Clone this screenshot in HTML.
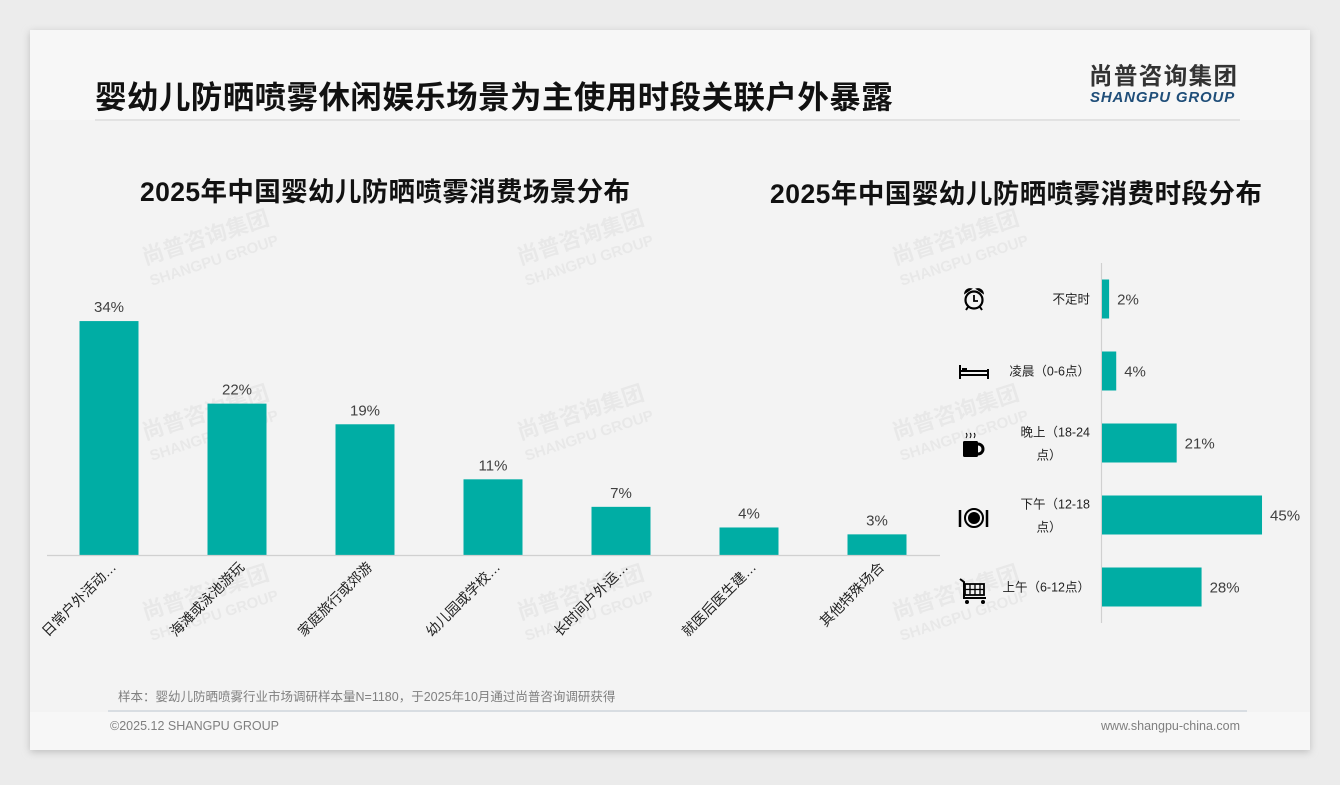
<!DOCTYPE html>
<html><head><meta charset="utf-8">
<style>
html,body{margin:0;padding:0;background:#ebebeb;}
body{width:1340px;height:780px;position:relative;overflow:hidden;font-family:"Liberation Sans","Noto Sans CJK SC",sans-serif;}
</style></head>
<body>
<svg width="1340" height="780" viewBox="0 0 1340 780" xmlns="http://www.w3.org/2000/svg" font-family="Liberation Sans, Noto Sans CJK SC, sans-serif">
<defs><filter id="sh" x="-5%" y="-5%" width="110%" height="110%"><feGaussianBlur stdDeviation="4"/></filter></defs>
<rect x="0" y="0" width="1340" height="780" fill="#ececec"/>
<rect x="30" y="32" width="1280" height="720" fill="#bdbdbd" filter="url(#sh)"/>
<rect x="30" y="30" width="1280" height="720" fill="#f7f7f7"/>
<rect x="30" y="120" width="1280" height="592" fill="#f3f3f3"/>
<text x="95" y="108" font-size="31.5" font-weight="bold" fill="#111" letter-spacing="0.3" textLength="798">婴幼儿防晒喷雾休闲娱乐场景为主使用时段关联户外暴露</text>
<line x1="95" y1="120" x2="1240" y2="120" stroke="#dcdcdc" stroke-width="1.5"/>
<g>
<text x="1163" y="84" font-size="23.5" font-weight="bold" fill="#333" text-anchor="middle" textLength="148">尚普咨询集团</text>
<text x="1163" y="102" font-size="15" font-weight="bold" font-style="italic" fill="#1f4e79" text-anchor="middle" letter-spacing="1.8" textLength="146">SHANGPU GROUP</text>
</g>
<g fill="#000" opacity="0.045" font-weight="bold">
<g transform="translate(145,265) rotate(-18)"><text font-size="22">尚普咨询集团</text><text y="22" font-size="15">SHANGPU GROUP</text></g>
<g transform="translate(520,265) rotate(-18)"><text font-size="22">尚普咨询集团</text><text y="22" font-size="15">SHANGPU GROUP</text></g>
<g transform="translate(895,265) rotate(-18)"><text font-size="22">尚普咨询集团</text><text y="22" font-size="15">SHANGPU GROUP</text></g>
<g transform="translate(145,440) rotate(-18)"><text font-size="22">尚普咨询集团</text><text y="22" font-size="15">SHANGPU GROUP</text></g>
<g transform="translate(520,440) rotate(-18)"><text font-size="22">尚普咨询集团</text><text y="22" font-size="15">SHANGPU GROUP</text></g>
<g transform="translate(895,440) rotate(-18)"><text font-size="22">尚普咨询集团</text><text y="22" font-size="15">SHANGPU GROUP</text></g>
<g transform="translate(145,620) rotate(-18)"><text font-size="22">尚普咨询集团</text><text y="22" font-size="15">SHANGPU GROUP</text></g>
<g transform="translate(520,620) rotate(-18)"><text font-size="22">尚普咨询集团</text><text y="22" font-size="15">SHANGPU GROUP</text></g>
<g transform="translate(895,620) rotate(-18)"><text font-size="22">尚普咨询集团</text><text y="22" font-size="15">SHANGPU GROUP</text></g>
</g>
<text x="385" y="201" font-size="26.5" font-weight="bold" fill="#111" text-anchor="middle" textLength="490">2025年中国婴幼儿防晒喷雾消费场景分布</text>
<text x="1016" y="203" font-size="26.5" font-weight="bold" fill="#111" text-anchor="middle" textLength="492">2025年中国婴幼儿防晒喷雾消费时段分布</text>
<g id="left-chart"></g>
<g id="right-chart"></g>
<g id="icons">
<g transform="translate(974,299)">
<circle cx="0" cy="1" r="8.5" fill="none" stroke="#000" stroke-width="2.2"/>
<path d="M-9,-6 a5,5 0 0 1 6,-4 z M9,-6 a5,5 0 0 0 -6,-4 z" fill="#000" stroke="#000" stroke-width="1.5"/>
<path d="M0,-4 V2 H4" stroke="#000" stroke-width="1.8" fill="none"/>
<path d="M-6,8 l-2,3 M6,8 l2,3" stroke="#000" stroke-width="2"/>
</g>
<g transform="translate(974,372)">
<path d="M-14,-7 V7 M14,-3 V7 M-14,3 H14 M-14,-1 H14" stroke="#000" stroke-width="2" fill="none"/>
<rect x="-12" y="-4" width="5" height="3" fill="#000"/>
</g>
<g transform="translate(973,445)">
<rect x="-10" y="-4" width="15" height="16" rx="1.5" fill="#000"/>
<path d="M5,-1 a5,5 0 0 1 0,10" stroke="#000" stroke-width="3" fill="none"/>
<path d="M-7,-12 q2,2 0,5 M-3,-12 q2,2 0,5 M1,-12 q2,2 0,5" stroke="#000" stroke-width="1" fill="none"/>
</g>
<g transform="translate(974,518)">
<circle cx="0" cy="0" r="9" fill="none" stroke="#000" stroke-width="2"/>
<circle cx="0" cy="0" r="6" fill="#000"/>
<path d="M-14,-8 V9 M13,-8 V9" stroke="#000" stroke-width="2.5"/>
</g>
<g transform="translate(974,591)">
<path d="M-14,-12 L-10,-9 V7 H12" stroke="#000" stroke-width="2" fill="none"/>
<rect x="-9" y="-7" width="19" height="11" fill="none" stroke="#000" stroke-width="1.8"/>
<path d="M-4,-7 V4 M1,-7 V4 M6,-7 V4 M-9,-1.5 H10" stroke="#000" stroke-width="1.3"/>
<circle cx="-7" cy="11" r="2" fill="#000"/><circle cx="9" cy="11" r="2" fill="#000"/>
</g>
</g>
<text x="118" y="701" font-size="12.5" fill="#7f7f7f">样本：婴幼儿防晒喷雾行业市场调研样本量N=1180，于2025年10月通过尚普咨询调研获得</text>
<line x1="108" y1="711" x2="1247" y2="711" stroke="#c7d0d8" stroke-width="1.2"/>
<text x="110" y="730" font-size="12.5" fill="#7f7f7f">©2025.12 SHANGPU GROUP</text>
<text x="1240" y="730" font-size="12.5" fill="#7f7f7f" text-anchor="end">www.shangpu-china.com</text>
</svg>
<script>
const sceneCategories = ["日常户外活动…","海滩或泳池游玩","家庭旅行或郊游","幼儿园或学校…","长时间户外运…","就医后医生建…","其他特殊场合"];
const sceneValues = [34,22,19,11,7,4,3];
const timeCategories = [["不定时"],["凌晨（0-6点）"],["晚上（18-24","点）"],["下午（12-18","点）"],["上午（6-12点）"]];
const timeValues = [2,4,21,45,28];

const NS = "http://www.w3.org/2000/svg";
function mk(tag, attrs, parent){const e=document.createElementNS(NS,tag);for(const k in attrs)e.setAttribute(k,attrs[k]);parent.appendChild(e);return e;}
const C = "#00ada4";

const L = document.getElementById("left-chart");
const baseY = 555, pxPerPct = 6.88;
const xC = i => 109 + i*128;
const yL = v => baseY - v*pxPerPct;
sceneValues.forEach((v,i)=>{
  const r = mk("rect",{x:xC(i)-29.5,y:yL(v),width:59,height:baseY-yL(v),fill:C},L);
  
  
  const t = mk("text",{x:xC(i),y:yL(v)-9,"font-size":15,fill:"#404040","text-anchor":"middle"},L);
  t.textContent = v+"%";
  
  
  const c = mk("text",{x:0,y:0,"font-size":14,fill:"#222","text-anchor":"end",transform:`translate(${xC(i)+8},${568}) rotate(-45)`},L);
  c.textContent = sceneCategories[i];
  
  
});
const ax = mk("line",{x1:47,y1:baseY+0.5,x2:940,y2:baseY+0.5,stroke:"#d0d0d0","stroke-width":1.2},L);



const R = document.getElementById("right-chart");
const x0 = 1101, pxR = 3.556;
const yR = i => 299 + i*72;
const xw = v => v*pxR;
const vax = mk("line",{x1:x0+0.5,y1:263,x2:x0+0.5,y2:623,stroke:"#d0d0d0","stroke-width":1.2},R);


timeValues.forEach((v,i)=>{
  const r = mk("rect",{x:x0+1,y:yR(i)-19.5,width:xw(v),height:39,fill:C},R);
  
  
  const t = mk("text",{x:x0+1+xw(v)+8,y:yR(i)+5.5,"font-size":15,fill:"#404040"},R);
  t.textContent = v+"%";
  
  
  const lines = timeCategories[i];
  lines.forEach((s,j)=>{
    const one = lines.length===1;
    const c = mk("text",{x:1090,y:yR(i)+4.5+(one?0:(j===0?-11:12)),"font-size":12.5,fill:"#222","text-anchor":"end"},R);
    if(!one && j===1){c.setAttribute("x",1049);c.setAttribute("text-anchor","middle");}
    c.textContent = s;
    
    
  });
});
</script>
</body></html>
